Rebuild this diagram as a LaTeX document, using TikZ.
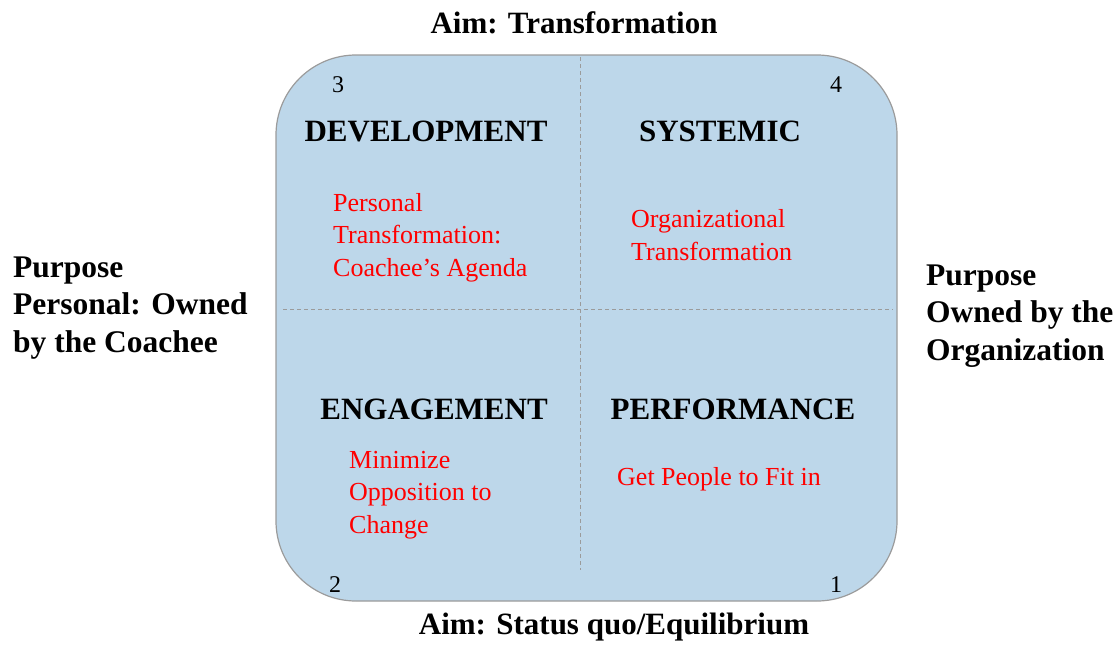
\documentclass[tikz,border=0pt]{standalone}
\usepackage{fontspec}
\setmainfont{Liberation Serif}
\definecolor{quadfill}{RGB}{189,215,234}
\definecolor{quadline}{RGB}{155,155,155}
\definecolor{notered}{RGB}{255,0,0}

\begin{document}
\begin{tikzpicture}[x=1pt,y=-1pt,
        quad/.style={draw=quadline,fill=quadfill,line width=1.2pt,rounded corners=80pt},
        divider/.style={draw=quadline,dash pattern=on 4pt off 3pt,line width=0.8pt},
        heading/.style={font=\fontsize{31}{37}\selectfont\bfseries,anchor=base,inner sep=0pt},
        corner/.style={font=\fontsize{24}{28}\selectfont,anchor=base,inner sep=0pt},
        note/.style={font=\fontsize{26}{32.5}\selectfont,text=notered,align=left,anchor=base west,inner sep=0pt},
        side/.style={font=\fontsize{31.5}{37.5}\selectfont\bfseries,align=left,anchor=base west,inner sep=0pt}]
    \useasboundingbox (0,0) rectangle (1120,645);

    % Frame and the two dividers
    \draw[quad] (276,55) rectangle (897,601);
    \coordinate (vtop) at (580,57);
    \coordinate (vbot) at (580,570);
    \coordinate (hleft) at (283,309);
    \coordinate (hright) at (893,309);
    \draw[divider] (vtop) -- (vbot);
    \draw[divider] (hleft) -- (hright);

    % Aims above and below
    \node[heading] (aimtop) at (574,34) {Aim: Transformation};
    \node[heading] (aimbot) at (614,634) {Aim: Status quo/Equilibrium};

    % Purpose on either side (placed by the baseline of the last line)
    \node[side] (purpleft) at (13,352) {Purpose\\Personal: Owned\\by the Coachee};
    \node[side] (purpright) at (926,360) {Purpose\\Owned by the\\Organization};

    % Quadrant numbers
    \node[corner] (q3) at (338,92) {3};
    \node[corner] (q4) at (836,92) {4};
    \node[corner] (q2) at (335,592) {2};
    \node[corner] (q1) at (836,592) {1};

    % Quadrant titles
    \node[heading] (dev) at (426,141) {DEVELOPMENT};
    \node[heading] (sys) at (720,141) {SYSTEMIC};
    \node[heading] (eng) at (434,419) {ENGAGEMENT};
    \node[heading] (perf) at (733,419) {PERFORMANCE};

    % Red notes
    \node[note] (devnote) at (333,276) {Personal\\Transformation:\\Coachee’s Agenda};
    \node[note] (sysnote) at (631,260) {Organizational\\Transformation};
    \node[note] (engnote) at (349,533) {Minimize\\Opposition to\\Change};
    \node[note] (perfnote) at (617,485) {Get People to Fit in};
\end{tikzpicture}
\end{document}
